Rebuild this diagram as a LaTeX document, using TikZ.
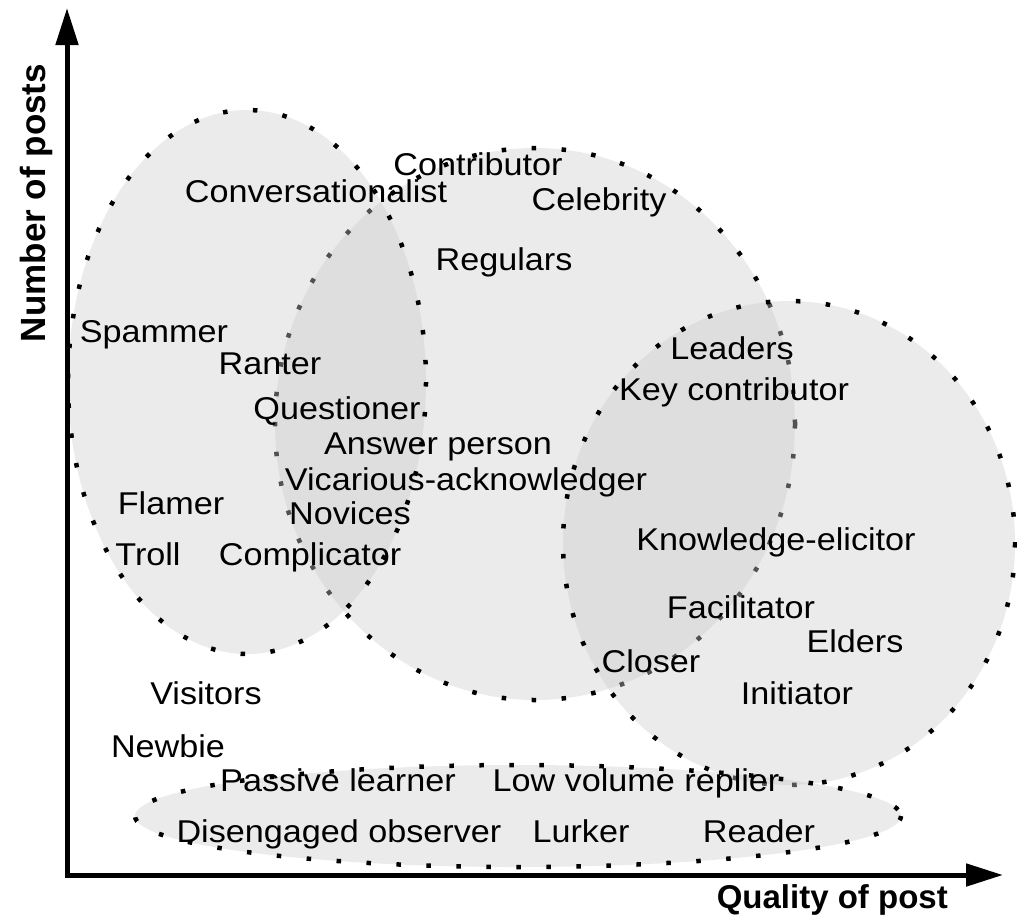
\documentclass[tikz,border=0pt]{standalone}
\usepackage{fontspec}
\setmainfont{Liberation Sans}[FakeStretch=1.085]
\newfontfamily\axisfont{Liberation Sans}
\usetikzlibrary{arrows.meta}

\begin{document}
\begin{tikzpicture}[x=1pt,y=-1pt,
  region/.style={fill=black!20, fill opacity=0.4, draw=black, line width=4.5pt,
                 dash pattern=on 4.5pt off 25.5pt},
  role/.style={anchor=base, inner sep=0pt, font=\fontsize{31.5}{36}\selectfont},
  axislabel/.style={inner sep=0pt, font=\axisfont\bfseries\fontsize{33}{38}\selectfont},
  axisline/.style={line width=5pt, line join=miter,
                   {Triangle[length=37pt,width=22pt]}-{Triangle[length=37pt,width=22pt]}}]

\useasboundingbox (0,0) rectangle (1017,922);

% overlapping groups of participants
\draw[region] (535,424) ellipse [x radius=260, y radius=276];
\draw[region] (247,382) ellipse [x radius=179, y radius=272];
\draw[region] (789,543) ellipse [x radius=226, y radius=242];
\draw[region] (518,816) ellipse [x radius=383, y radius=51];

% axes
\coordinate (ytop) at (67,8);
\coordinate (origin) at (67,875);
\coordinate (xend) at (1003,875);
\draw[axisline] (ytop) -- (origin) -- (xend);

\node[axislabel, anchor=base east] (xlabel) at (948,908) {Quality of post};
\node[axislabel, anchor=base, rotate=90, font=\axisfont\bfseries\fontsize{35}{40}\selectfont] (ylabel) at (45,203) {Number of posts};

% roles
\node[role] (contributor) at (478,175) {Contributor};
\node[role] (conversationalist) at (316,202) {Conversationalist};
\node[role] (celebrity) at (599,210) {Celebrity};
\node[role] (regulars) at (504,270) {Regulars};
\node[role] (spammer) at (154,342) {Spammer};
\node[role] (ranter) at (270,374) {Ranter};
\node[role] (leaders) at (732,359) {Leaders};
\node[role] (keycontributor) at (734,400) {Key contributor};
\node[role] (questioner) at (337,419) {Questioner};
\node[role] (answerperson) at (438,454) {Answer person};
\node[role] (vicarious) at (466,490) {Vicarious-acknowledger};
\node[role] (flamer) at (171,514) {Flamer};
\node[role] (novices) at (350,524) {Novices};
\node[role] (elicitor) at (776,550) {Knowledge-elicitor};
\node[role] (troll) at (148,565) {Troll};
\node[role] (complicator) at (310,565) {Complicator};
\node[role] (facilitator) at (741,618) {Facilitator};
\node[role] (elders) at (855,652) {Elders};
\node[role] (closer) at (651,672) {Closer};
\node[role] (visitors) at (206,704) {Visitors};
\node[role] (initiator) at (797,704) {Initiator};
\node[role] (newbie) at (168,757) {Newbie};
\node[role] (passive) at (338,791) {Passive learner};
\node[role] (lowvolume) at (636,791) {Low volume replier};
\node[role] (disengaged) at (339,842) {Disengaged observer};
\node[role] (lurker) at (581,842) {Lurker};
\node[role] (reader) at (759,842) {Reader};

\end{tikzpicture}
\end{document}
